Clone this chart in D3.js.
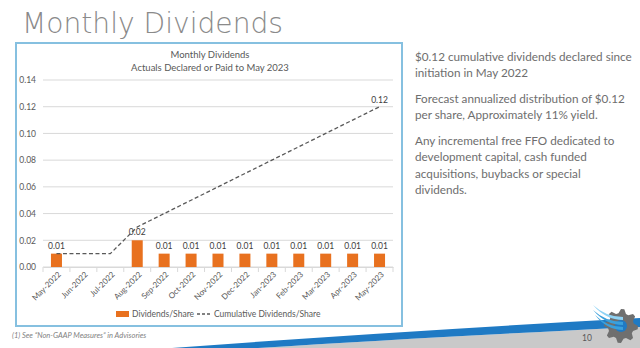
<!DOCTYPE html>
<html><head><meta charset="utf-8">
<script src="https://cdn.jsdelivr.net/npm/d3@7"></script>
<style>html,body{margin:0;padding:0;background:#fff;}svg{display:block;}</style>
</head><body>
<svg id="c" width="640" height="348"></svg>
<script>
const months = ["May-2022","Jun-2022","Jul-2022","Aug-2022","Sep-2022","Oct-2022","Nov-2022","Dec-2022","Jan-2023","Feb-2023","Mar-2023","Apr-2023","May-2023"];
const dividends = [0.01,null,null,0.02,0.01,0.01,0.01,0.01,0.01,0.01,0.01,0.01,0.01];
const cumulative = [0.01,0.01,0.01,0.03,0.04,0.05,0.06,0.07,0.08,0.09,0.10,0.11,0.12];
const yTicks = [0,0.02,0.04,0.06,0.08,0.10,0.12,0.14];
const bullets = [
  ["$0.12 cumulative dividends declared since","initiation in May 2022"],
  ["Forecast annualized distribution of $0.12","per share, Approximately 11% yield."],
  ["Any incremental free FFO dedicated to","development capital, cash funded","acquisitions, buybacks or special","dividends."]
];

const svg = d3.select("#c");
const font = "Lato, 'Open Sans', sans-serif";

// Footer swoosh
svg.append("path").attr("d","M258,348 Q430,337 640,327 L640,348 Z").attr("fill","#c9c9c9");
svg.append("path").attr("d","M172,348 Q400,331 640,318 L640,327 Q430,337 258,348 Z").attr("fill","#1f7ac4");

// Slide title
svg.append("text").attr("x",22).attr("y",33).attr("font-family","'DejaVu Sans', sans-serif")
  .attr("font-size",28).attr("font-weight",300).attr("fill","#8a8a8a")
  .attr("textLength",261).attr("lengthAdjust","spacingAndGlyphs").text("Monthly Dividends");

// Chart frame
svg.append("rect").attr("x",16).attr("y",43).attr("width",386).attr("height",283)
  .attr("fill","#fff").attr("stroke","#86c0e0").attr("stroke-width",2);

// Chart title
const ct = svg.append("text").attr("font-family",font).attr("font-size",9.5).attr("fill","#595959").attr("text-anchor","middle");
ct.append("tspan").attr("x",210).attr("y",58).text("Monthly Dividends");
ct.append("tspan").attr("x",210).attr("y",70.5).text("Actuals Declared or Paid to May 2023");

const x = d3.scaleBand().domain(months).range([43,393]).paddingInner(0).paddingOuter(0);
const y = d3.scaleLinear().domain([0,0.14]).range([267,80]);

// Gridlines
svg.append("g").selectAll("line").data(yTicks).join("line")
  .attr("x1",43).attr("x2",393).attr("y1",d=>y(d)).attr("y2",d=>y(d))
  .attr("stroke","#d9d9d9").attr("stroke-width",1);

// Y axis
const yAxis = svg.append("g").attr("transform","translate(43,0)")
  .call(d3.axisLeft(y).tickValues(yTicks).tickFormat(d3.format(".2f")).tickSize(0).tickPadding(7));
yAxis.select(".domain").remove();
yAxis.selectAll("text").attr("font-family",font).attr("font-size",8.5).attr("fill","#595959");

// X axis
const xAxis = svg.append("g").attr("transform","translate(0,267)")
  .call(d3.axisBottom(x).tickSize(0).tickFormat(""));
xAxis.select(".domain").attr("stroke","#d9d9d9");
svg.append("g").selectAll("line").data(d3.range(months.length+1)).join("line")
  .attr("x1",i=>43+i*x.bandwidth()).attr("x2",i=>43+i*x.bandwidth())
  .attr("y1",267).attr("y2",272).attr("stroke","#d9d9d9");
svg.append("g").selectAll("text").data(months).join("text")
  .attr("transform",d=>`translate(${x(d)+x.bandwidth()/2+5},275) rotate(-45)`)
  .attr("text-anchor","end").attr("font-family",font).attr("font-size",8).attr("fill","#595959").text(d=>d);

// Bars
const barW = 11;
const barData = months.map((m,i)=>({m,v:dividends[i]})).filter(d=>d.v!=null);
svg.append("g").selectAll("rect").data(barData).join("rect")
  .attr("x",d=>x(d.m)+x.bandwidth()/2-barW/2).attr("width",barW)
  .attr("y",d=>y(d.v)).attr("height",d=>y(0)-y(d.v)).attr("fill","#e8711f");

// Bar labels
svg.append("g").selectAll("text").data(barData).join("text")
  .attr("x",d=>x(d.m)+x.bandwidth()/2).attr("y",d=>y(d.v)-5)
  .attr("text-anchor","middle").attr("font-family",font).attr("font-size",8.5).attr("fill","#404040")
  .text(d=>d3.format(".2f")(d.v));

// Cumulative line
const line = d3.line().x((d,i)=>x(months[i])+x.bandwidth()/2).y(d=>y(d));
svg.append("path").datum(cumulative).attr("d",line).attr("fill","none")
  .attr("stroke","#595959").attr("stroke-width",1.3).attr("stroke-dasharray","4,2.5");
const last = cumulative.length-1;
svg.append("text").attr("x",x(months[last])+x.bandwidth()/2).attr("y",y(cumulative[last])-4)
  .attr("text-anchor","middle").attr("font-family",font).attr("font-size",8.5).attr("fill","#404040")
  .text(d3.format(".2f")(cumulative[last]));

// Legend
svg.append("rect").attr("x",116).attr("y",311).attr("width",13).attr("height",6).attr("fill","#e8711f");
svg.append("text").attr("x",132).attr("y",317).attr("font-family",font).attr("font-size",8.5).attr("fill","#595959").text("Dividends/Share");
svg.append("line").attr("x1",197).attr("x2",211).attr("y1",314).attr("y2",314)
  .attr("stroke","#595959").attr("stroke-width",1.3).attr("stroke-dasharray","3,2");
svg.append("text").attr("x",214).attr("y",317).attr("font-family",font).attr("font-size",8.5).attr("fill","#595959").text("Cumulative Dividends/Share");

// Right text
const rg = svg.append("g");
const starts = [61,103,145];
const lh = 16.3;
let fs = 12;
bullets.forEach((b,bi)=>{
  b.forEach((l,li)=>{
    rg.append("text").attr("x",415).attr("y",starts[bi]+li*lh).attr("font-family",font)
      .attr("font-size",fs).attr("fill","#6e6e6e").text(l);
  });
});
const w0 = rg.select("text").node().getComputedTextLength();
rg.selectAll("text").attr("font-size",fs*217/w0);

// Footnote
svg.append("text").attr("x",12).attr("y",338).attr("font-family",font).attr("font-size",7.5)
  .attr("font-style","italic").attr("fill","#7f7f7f").text("(1)  See \u201cNon-GAAP Measures\u201d in Advisories");

// Page number
svg.append("text").attr("x",582).attr("y",341).attr("font-family",font).attr("font-size",8.5).attr("fill","#595959").text("10");

// Logo: gear + wings
const lg = svg.append("g").attr("transform","translate(621,326)");
const teeth = 8, rOut = 17, rIn = 13;
let pts = [];
for(let i=0;i<teeth*4;i++){
  const a = i/(teeth*4)*2*Math.PI;
  const r = (i%4===0||i%4===1)?rOut:rIn;
  pts.push([r*Math.cos(a),r*Math.sin(a)]);
}
lg.append("path").attr("d","M"+pts.map(p=>p.join(",")).join("L")+"Z").attr("fill","#6f6f6f");
lg.append("circle").attr("r",6).attr("fill","#1f7ac4");
[[-28,-21,-2,-9],[-28,-16,-2,-4],[-26,-11,-2,1]].forEach(([x1,y1,x2,y2],i)=>{
  lg.append("path").attr("d",`M${x1},${y1} Q${(x1+x2)/2},${y2} ${x2+4},${y2} L${x2+4},${y2+3} Q${(x1+x2)/2},${y2+3} ${x1},${y1}Z`)
    .attr("fill",i===0?"#8fd3f5":"#3aa0dc");
});
</script>
</body></html>
